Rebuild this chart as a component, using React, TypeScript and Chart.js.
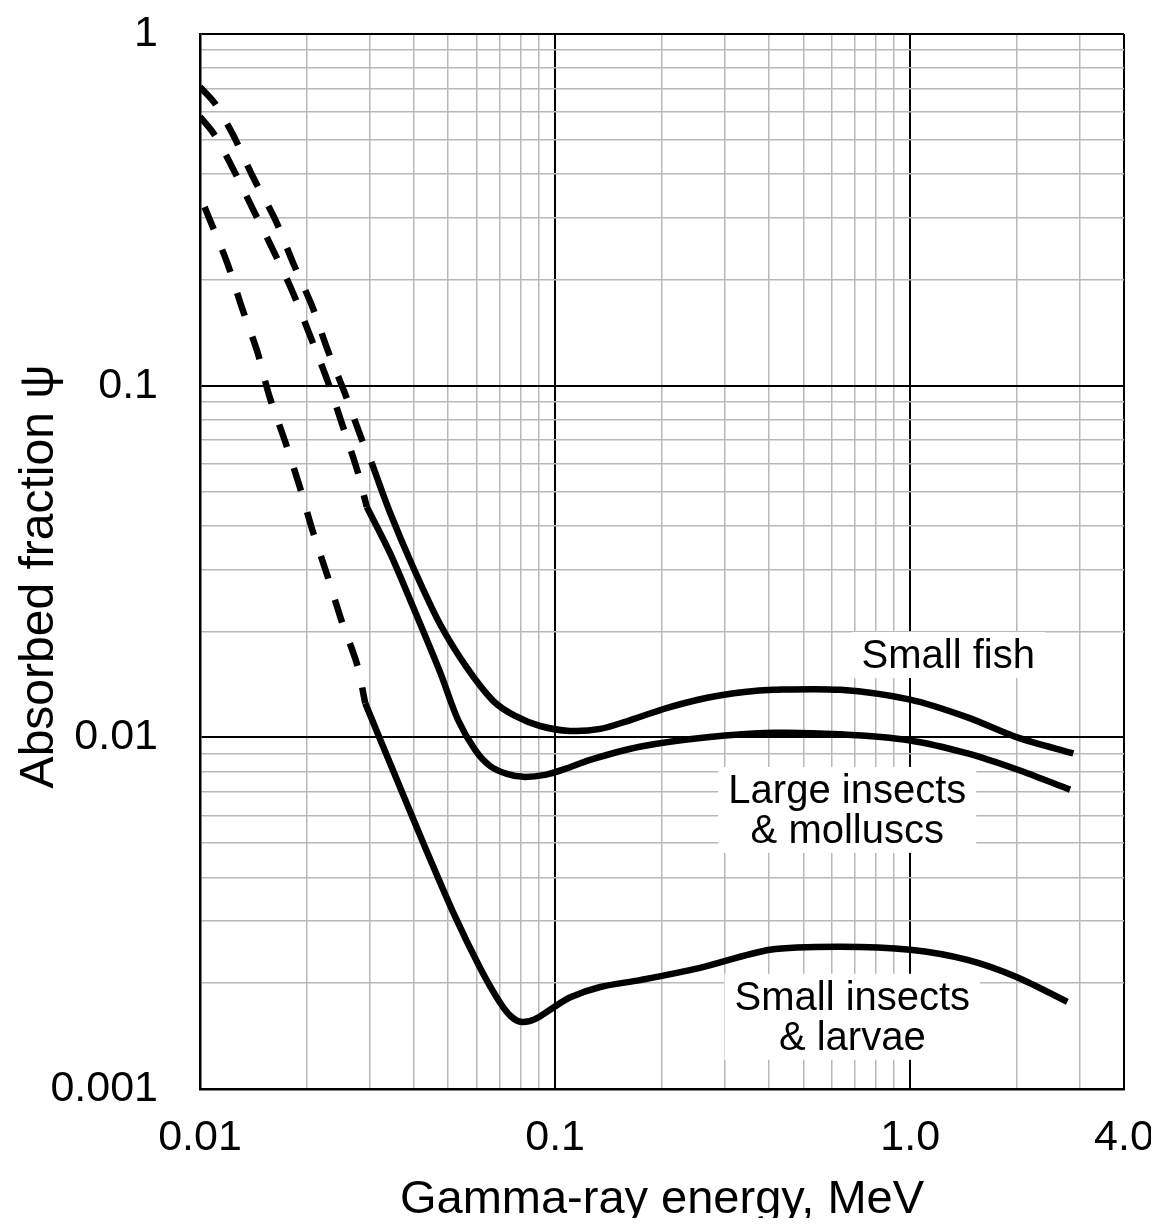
import React, { useEffect, useRef } from "react";
import { Chart, registerables } from "chart.js";

Chart.register(...registerables);

const FONT = "'Liberation Sans', Arial, Helvetica, sans-serif";

// Gamma-ray energy (MeV) and absorbed fraction ψ
const FISH_E = [0.01, 0.011, 0.0124, 0.0141, 0.0163, 0.0183, 0.0207, 0.0229, 0.0256, 0.0286, 0.0305, 0.0343, 0.0398, 0.0474, 0.0565, 0.0669, 0.0772, 0.0907, 0.110, 0.134, 0.163, 0.207, 0.268, 0.341, 0.411, 0.635, 1.0, 1.45, 2.0, 2.88];
const FISH_PSI = [0.707, 0.636, 0.516, 0.392, 0.296, 0.223, 0.168, 0.126, 0.095, 0.070, 0.060, 0.0435, 0.0305, 0.0210, 0.01575, 0.0127, 0.0115, 0.01077, 0.01043, 0.01057, 0.0112, 0.01213, 0.01296, 0.01346, 0.01365, 0.01365, 0.0128, 0.0114, 0.0100, 0.0090];
const FISH_SOLID_FROM = 0.0305;

const LARGE_E = [0.01, 0.0109, 0.01215, 0.014, 0.01606, 0.01828, 0.0204, 0.0228, 0.0251, 0.0277, 0.0295, 0.0343, 0.0398, 0.0474, 0.0533, 0.0596, 0.0656, 0.0732, 0.0813, 0.0937, 0.1067, 0.1255, 0.173, 0.268, 0.411, 0.635, 1.0, 1.45, 2.0, 2.82];
const LARGE_PSI = [0.581, 0.523, 0.430, 0.322, 0.243, 0.1835, 0.139, 0.104, 0.078, 0.0576, 0.0452, 0.0334, 0.0235, 0.01535, 0.0112, 0.0092, 0.00829, 0.00787, 0.00772, 0.00782, 0.00813, 0.00863, 0.0094, 0.0100, 0.0103, 0.0102, 0.0098, 0.0090, 0.0081, 0.0071];
const LARGE_SOLID_FROM = 0.0295;

const SMALL_E = [0.0103, 0.0119, 0.0131, 0.0145, 0.0157, 0.0174, 0.0191, 0.0208, 0.0229, 0.0251, 0.0277, 0.0292, 0.0354, 0.043, 0.0523, 0.0615, 0.070, 0.0756, 0.0807, 0.0878, 0.0968, 0.110, 0.134, 0.1735, 0.256, 0.403, 0.635, 1.0, 1.45, 2.0, 2.77];
const SMALL_PSI = [0.322, 0.225, 0.1675, 0.125, 0.093, 0.069, 0.0515, 0.0384, 0.0286, 0.0213, 0.0161, 0.0125, 0.00781, 0.00488, 0.00309, 0.00221, 0.00176, 0.0016, 0.00155, 0.00158, 0.00168, 0.00182, 0.00195, 0.00204, 0.00221, 0.00249, 0.00254, 0.00249, 0.00233, 0.00208, 0.00177];
const SMALL_SOLID_FROM = 0.0292;

// Grid lines and tick labels
const X_GRID = [0.01, 0.02, 0.03, 0.04, 0.05, 0.06, 0.07, 0.08, 0.09, 0.1, 0.2, 0.3, 0.4, 0.5, 0.6, 0.7, 0.8, 0.9, 1, 2, 3, 4];
const X_TICK_VALUES = [0.01, 0.1, 1, 4];
const X_TICK_LABELS = ["0.01", "0.1", "1.0", "4.0"];
const Y_GRID = [0.001, 0.002, 0.003, 0.004, 0.005, 0.006, 0.007, 0.008, 0.009, 0.01, 0.02, 0.03, 0.04, 0.05, 0.06, 0.07, 0.08, 0.09, 0.1, 0.2, 0.3, 0.4, 0.5, 0.6, 0.7, 0.8, 0.9, 1];
const Y_TICK_VALUES = [0.001, 0.01, 0.1, 1];
const Y_TICK_LABELS = ["0.001", "0.01", "0.1", "1"];
const MAJOR_X = [0.01, 0.1, 1, 4];
const MAJOR_Y = [0.001, 0.01, 0.1, 1];

const X_TITLE = "Gamma-ray energy, MeV";
const Y_TITLE = "Absorbed fraction \u03C8";

// Curve labels, anchored at (energy, ψ) of the first line's baseline centre
const CURVE_LABELS = [
  { lines: ["Small fish"], e: 1.28, psi: 0.01575 },
  { lines: ["Large insects", "& molluscs"], e: 0.665, psi: 0.00651 },
  { lines: ["Small insects", "& larvae"], e: 0.687, psi: 0.00168 },
];

const near = (a: number, b: number) => Math.abs(a - b) / b < 1e-6;
const labelFor = (v: number, vals: number[], labels: string[]) => {
  const i = vals.findIndex((t) => near(v, t));
  return i >= 0 ? labels[i] : "";
};

function makeSets(name: string, xs: number[], ys: number[], cut: number) {
  const pts = xs.map((x, i) => ({ x, y: ys[i] }));
  const common = {
    borderColor: "#000",
    backgroundColor: "#000",
    borderWidth: 6.5,
    pointRadius: 0,
    fill: false,
    tension: 0.3,
    borderCapStyle: "butt" as const,
    borderJoinStyle: "round" as const,
  };
  return [
    { label: name + " (dashed)", data: pts.filter((p) => p.x <= cut), borderDash: [24, 22], ...common },
    { label: name, data: pts.filter((p) => p.x >= cut), ...common },
  ];
}

const annotPlugin = {
  id: "annot",
  beforeDatasetsDraw(chart: any) {
    const { ctx, scales } = chart;
    const x = scales.x;
    const y = scales.y;
    ctx.save();
    ctx.font = `40px ${FONT}`;
    CURVE_LABELS.forEach((l) => {
      const cx = x.getPixelForValue(l.e);
      const by = y.getPixelForValue(l.psi);
      const w = Math.max(...l.lines.map((t) => ctx.measureText(t).width));
      const top = by - 36;
      const bottom = by + (l.lines.length - 1) * 40 + 10;
      ctx.fillStyle = "#fff";
      ctx.fillRect(cx - w / 2 - 10, top, w + 20, bottom - top);
      ctx.fillStyle = "#000";
      ctx.textAlign = "center";
      ctx.textBaseline = "alphabetic";
      l.lines.forEach((t, i) => ctx.fillText(t, cx, by + i * 40));
    });
    ctx.restore();
  },
  afterDraw(chart: any) {
    const { ctx, chartArea } = chart;
    ctx.save();
    ctx.fillStyle = "#000";
    ctx.font = `47px ${FONT}`;
    ctx.textAlign = "center";
    ctx.textBaseline = "alphabetic";
    ctx.fillText(X_TITLE, (chartArea.left + chartArea.right) / 2, chartArea.bottom + 124);
    ctx.translate(45, (chartArea.top + chartArea.bottom) / 2 + 15);
    ctx.rotate(-Math.PI / 2);
    ctx.font = `48px ${FONT}`;
    ctx.fillText(Y_TITLE, 0, 0);
    ctx.restore();
  },
};

export default function App() {
  const ref = useRef<HTMLCanvasElement | null>(null);
  useEffect(() => {
    if (!ref.current) return;
    const isMajor = (v: number, list: number[]) => list.some((t) => near(v, t));
    const chart = new Chart(ref.current, {
      type: "line",
      data: {
        datasets: [
          ...makeSets("Small fish", FISH_E, FISH_PSI, FISH_SOLID_FROM),
          ...makeSets("Large insects & molluscs", LARGE_E, LARGE_PSI, LARGE_SOLID_FROM),
          ...makeSets("Small insects & larvae", SMALL_E, SMALL_PSI, SMALL_SOLID_FROM),
        ] as any,
      },
      options: {
        responsive: false,
        animation: false,
        devicePixelRatio: 1,
        layout: { padding: { top: 26, right: 27, left: 0, bottom: 0 } },
        plugins: { legend: { display: false }, tooltip: { enabled: false } },
        scales: {
          x: {
            type: "logarithmic",
            min: 0.01,
            max: 4,
            afterBuildTicks: (s: any) => {
              s.ticks = X_GRID.map((v) => ({ value: v }));
            },
            afterFit: (s: any) => {
              s.height = 137;
              s.paddingLeft = 0;
              s.paddingRight = 0;
            },
            ticks: {
              autoSkip: false,
              maxRotation: 0,
              minRotation: 0,
              padding: 23,
              color: "#000",
              font: { family: FONT, size: 43 },
              callback: (v: any) => labelFor(Number(v), X_TICK_VALUES, X_TICK_LABELS),
            },
            grid: {
              drawTicks: false,
              color: (c: any) => (isMajor(c.tick.value, MAJOR_X) ? "#000" : "#b8b8b8"),
              lineWidth: (c: any) => (isMajor(c.tick.value, MAJOR_X) ? 2 : 1.5),
            },
            border: { color: "#000", width: 2.5 },
          },
          y: {
            type: "logarithmic",
            min: 0.001,
            max: 1,
            afterBuildTicks: (s: any) => {
              s.ticks = Y_GRID.map((v) => ({ value: v }));
            },
            afterFit: (s: any) => {
              s.width = 192;
              s.paddingTop = 0;
              s.paddingBottom = 0;
            },
            ticks: {
              autoSkip: false,
              padding: 42,
              color: "#000",
              font: { family: FONT, size: 43 },
              callback: (v: any) => labelFor(Number(v), Y_TICK_VALUES, Y_TICK_LABELS),
            },
            grid: {
              drawTicks: false,
              color: (c: any) => (isMajor(c.tick.value, MAJOR_Y) ? "#000" : "#b8b8b8"),
              lineWidth: (c: any) => (isMajor(c.tick.value, MAJOR_Y) ? 2 : 1.5),
            },
            border: { color: "#000", width: 2.5 },
          },
        },
      } as any,
      plugins: [annotPlugin],
    });
    return () => chart.destroy();
  }, []);
  return (
    <canvas
      ref={ref}
      width={1143}
      height={1218}
      style={{ display: "block", marginBottom: -8 }}
    />
  );
}
